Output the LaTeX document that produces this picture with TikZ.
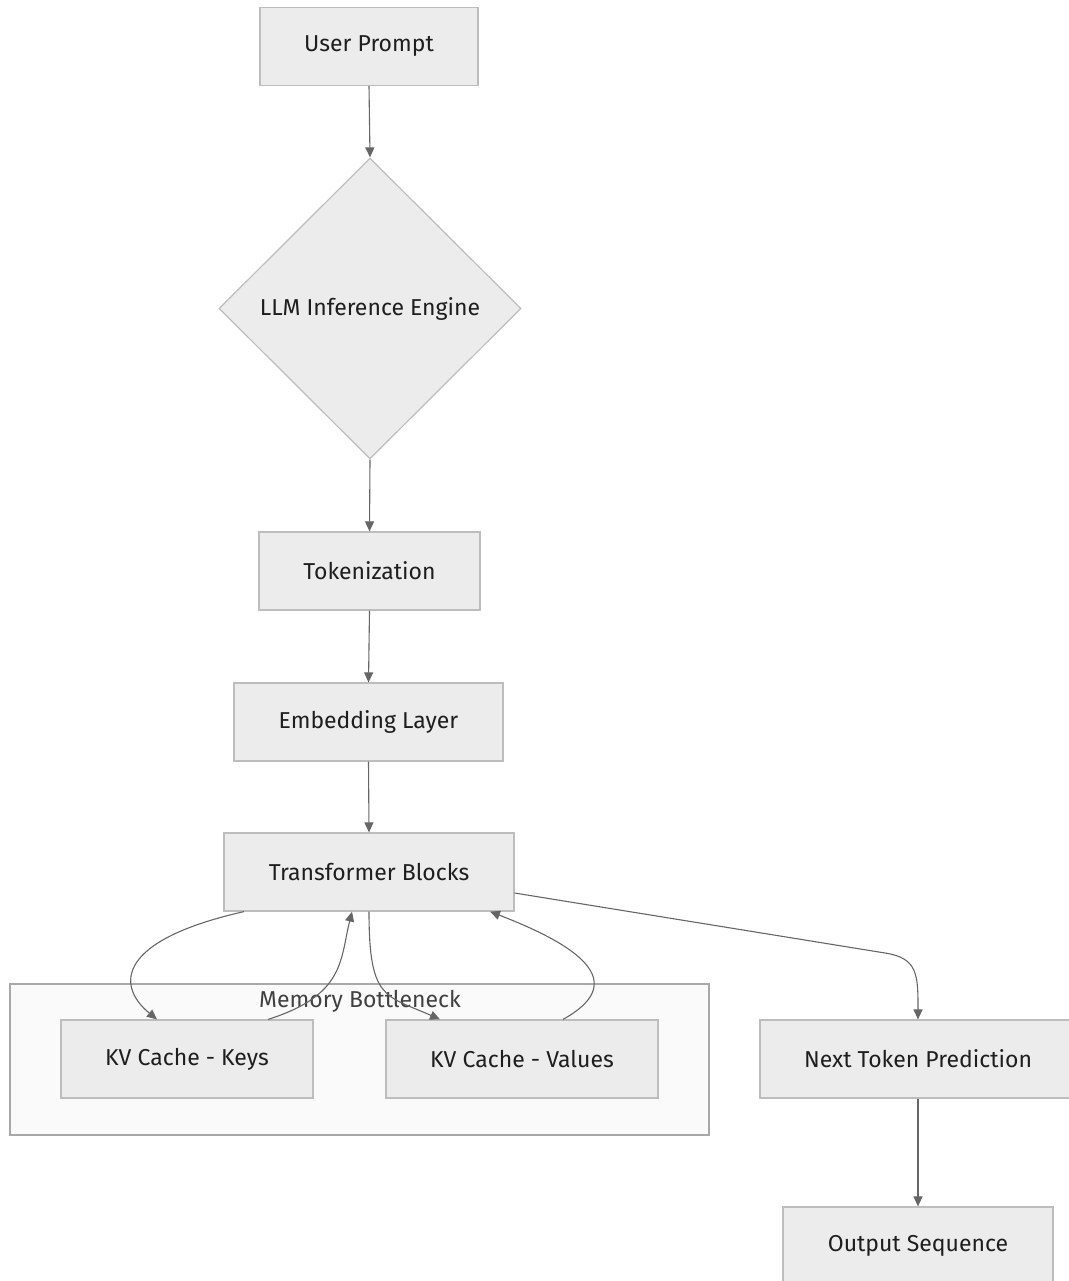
\documentclass[tikz,border=0pt]{standalone}
\usepackage{fontspec}
\setmainfont{Fira Sans}
\usetikzlibrary{shapes.geometric,arrows.meta}
\definecolor{nodefill}{HTML}{ECECEC}
\definecolor{nodeline}{HTML}{BDBDBD}
\definecolor{clusterfill}{HTML}{FAFAFA}
\definecolor{clusterline}{HTML}{A8A8A8}
\definecolor{edgecol}{HTML}{666666}
\definecolor{txt}{HTML}{1E1E1E}
\tikzset{
  box/.style={draw=nodeline, fill=nodefill, line width=1.2pt, minimum height=78pt, inner sep=0pt, text=txt, font=\fontsize{23}{26}\selectfont},
  decision/.style={diamond, draw=nodeline, fill=nodefill, line width=1.2pt, minimum width=302pt, minimum height=301pt, inner sep=0pt, text=txt, font=\fontsize{23}{26}\selectfont},
  link/.style={draw=edgecol, line width=1.1pt, -{Triangle[length=10pt,width=9pt]}},
}
\begin{document}
\begin{tikzpicture}[x=1pt,y=-1pt]
\useasboundingbox (0,0) rectangle (1068,1281);
% cluster
\node[draw=clusterline, fill=clusterfill, line width=1.2pt, minimum width=699pt, minimum height=151pt, inner sep=0pt] (MB) at (359.5,1059.5) {};
\node[text=txt!85, font=\fontsize{23}{26}\selectfont, anchor=center] (MBL) at (360,1001) {Memory Bottleneck};
% nodes
\node[box, minimum width=218pt] (UP) at (369,46.5) {User Prompt};
\node[decision] (LLM) at (370,308.5) {LLM Inference Engine};
\node[box, minimum width=221pt] (TK) at (369.5,571) {Tokenization};
\node[box, minimum width=269pt] (EL) at (368.5,722) {Embedding Layer};
\node[box, minimum width=290pt] (TB) at (369,872) {Transformer Blocks};
\node[box, minimum width=252pt] (KK) at (187,1059) {KV Cache - Keys};
\node[box, minimum width=272pt] (KV) at (522,1059) {KV Cache - Values};
\node[box, minimum width=316pt] (NT) at (918,1059) {Next Token Prediction};
\node[box, minimum width=270pt] (OS) at (918,1246) {Output Sequence};
% edges
\draw[link] (UP.south) -- (LLM.north);
\draw[link] (LLM.south) -- (TK.north);
\draw[link] (TK.south) -- (EL.north);
\draw[link] (EL.south) -- (TB.north);
\draw[link] ([xshift=-125pt]TB.south) .. controls (118,940) and (115,985) .. ([xshift=-30pt]KK.north);
\draw[link] ([xshift=81pt]KK.north) .. controls (345,995) and (340,960) .. ([xshift=-17pt]TB.south);
\draw[link] (TB.south) .. controls (369,1000) and (385,995) .. ([xshift=-82pt]KV.north);
\draw[link] ([xshift=41pt]KV.north) .. controls (625,985) and (590,950) .. ([xshift=121pt]TB.south);
\draw[link] ([yshift=-21pt]TB.east) -- (885,953) .. controls (918,958) and (918,975) .. (NT.north);
\draw[link] (NT.south) -- (OS.north);
\end{tikzpicture}
\end{document}
